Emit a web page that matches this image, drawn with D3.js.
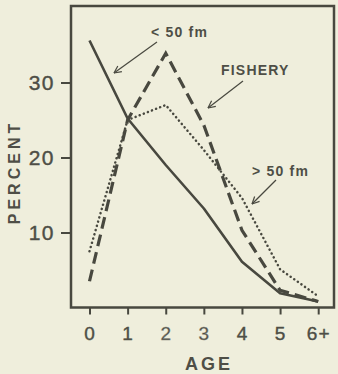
<!DOCTYPE html>
<html>
<head>
<meta charset="utf-8">
<script src="https://cdn.jsdelivr.net/npm/d3@7"></script>
<style>
  html, body { margin: 0; padding: 0; background: #efeedc; }
  svg { display: block; }
  text { font-family: "Liberation Sans", Arial, Helvetica, sans-serif; fill: #4e4e46; }
</style>
</head>
<body>
<script>
// ---- data ----
const ages = ["0", "1", "2", "3", "4", "5", "6+"];
const shallow = [35.6, 25.2, 19.0, 13.2, 6.1, 1.9, 0.8];   // < 50 fm (solid)
const fishery = [3.5, 25.0, 33.9, 24.3, 10.3, 2.3, 0.8];   // FISHERY (dashed)
const deep    = [7.5, 25.0, 27.0, 21.0, 14.6, 5.1, 1.5];   // > 50 fm (dotted)
const yTicks = [10, 20, 30];
const labels = [
  { text: "< 50 fm", x: 151, y: 37, from: [157, 42], to: [114, 73] },
  { text: "FISHERY", x: 221, y: 75, from: [243, 81], to: [208, 108] },
  { text: "> 50 fm", x: 252, y: 176, from: [276, 180], to: [252, 204] }
];

const W = 338, H = 374;
const frame = { left: 71, right: 334, top: 6, bottom: 307.5 };
const ink = "#48483f";

const svg = d3.select("body").append("svg").attr("width", W).attr("height", H);
svg.append("rect").attr("width", W).attr("height", H).attr("fill", "#efeedc");

const x = d3.scalePoint().domain(ages).range([89.5, 318.2]);
const y = d3.scaleLinear().domain([0, 40]).range([frame.bottom, frame.bottom - 300]);

// frame
svg.append("rect")
  .attr("x", frame.left).attr("y", frame.top)
  .attr("width", frame.right - frame.left).attr("height", frame.bottom - frame.top)
  .attr("fill", "none").attr("stroke", ink).attr("stroke-width", 2.5);

// y axis
const gy = svg.append("g").attr("transform", `translate(${frame.left},0)`)
  .call(d3.axisLeft(y).tickValues(yTicks).tickSize(10).tickPadding(6).tickFormat(d3.format("d")));
gy.select(".domain").remove();
gy.selectAll(".tick line").attr("stroke", ink).attr("stroke-width", 2);
gy.selectAll(".tick text").attr("font-size", 21).attr("letter-spacing", 1.5)
  .attr("fill", "#4e4e46").attr("stroke", "#4e4e46").attr("stroke-width", 0.4)
  .style("font-family", "'Liberation Sans', Arial, sans-serif");

// x axis
const gx = svg.append("g").attr("transform", `translate(0,${frame.bottom})`)
  .call(d3.axisBottom(x).tickSize(7).tickPadding(12));
gx.select(".domain").remove();
gx.selectAll(".tick line").attr("stroke", ink).attr("stroke-width", 2);
gx.selectAll(".tick text").attr("font-size", 19).attr("letter-spacing", 1)
  .attr("fill", d => (d === "2" || d === "3") ? "#8c8c82" : "#4e4e46")
  .attr("stroke", d => (d === "2" || d === "3") ? "#8c8c82" : "#4e4e46").attr("stroke-width", 0.4)
  .style("font-family", "'Liberation Sans', Arial, sans-serif");

// axis titles
svg.append("text")
  .attr("transform", "translate(20,172) rotate(-90)")
  .attr("text-anchor", "middle")
  .attr("font-size", 16).attr("font-weight", "bold").attr("letter-spacing", 4)
  .text("PERCENT");
svg.append("text")
  .attr("x", 209).attr("y", 370)
  .attr("text-anchor", "middle")
  .attr("font-size", 18).attr("font-weight", "bold").attr("letter-spacing", 3)
  .attr("fill", "#5a5a52")
  .text("AGE");

// lines
const line = d3.line().x((d, i) => x(ages[i])).y(d => y(d));
svg.append("path").datum(shallow).attr("d", line)
  .attr("fill", "none").attr("stroke", ink).attr("stroke-width", 2.6).attr("stroke-linejoin", "round");
svg.append("path").datum(fishery).attr("d", line)
  .attr("fill", "none").attr("stroke", ink).attr("stroke-width", 3.2)
  .attr("stroke-dasharray", "12,6");
svg.append("path").datum(deep).attr("d", line)
  .attr("fill", "none").attr("stroke", ink).attr("stroke-width", 2.5)
  .attr("stroke-linecap", "round").attr("stroke-dasharray", "0.1,4.3");

// annotations with arrows
labels.forEach(l => {
  svg.append("text").attr("x", l.x).attr("y", l.y)
    .attr("font-size", 14).attr("font-weight", "bold").attr("letter-spacing", 1.2)
    .text(l.text);
  svg.append("line")
    .attr("x1", l.from[0]).attr("y1", l.from[1]).attr("x2", l.to[0]).attr("y2", l.to[1])
    .attr("stroke", ink).attr("stroke-width", 1.2);
  const ang = Math.atan2(l.from[1] - l.to[1], l.from[0] - l.to[0]);
  const len = 8, spread = 0.45;
  [ang - spread, ang + spread].forEach(a => {
    svg.append("line")
      .attr("x1", l.to[0]).attr("y1", l.to[1])
      .attr("x2", l.to[0] + len * Math.cos(a)).attr("y2", l.to[1] + len * Math.sin(a))
      .attr("stroke", ink).attr("stroke-width", 1.2);
  });
});
</script>
</body>
</html>
